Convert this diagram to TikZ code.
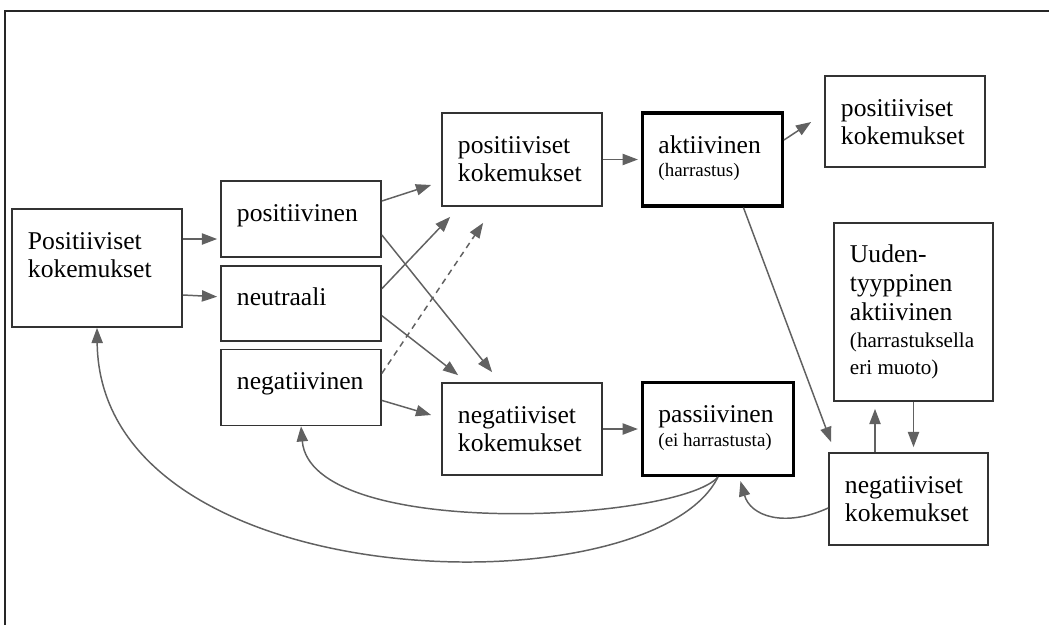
\documentclass[tikz,border=0pt]{standalone}
\usepackage{fontspec}
\setmainfont{Liberation Serif}
\usetikzlibrary{arrows.meta, positioning}
\newcommand{\boxfont}{\fontsize{18.2}{20.6}\selectfont}
\newcommand{\notefont}{\fontsize{13.5}{17}\selectfont}
% text sits at the top of each box, first baseline 1cm below the edge
\newcommand{\boxtxt}[3]{\parbox[c][#2][t]{#1}{\boxfont\raggedright\rule{0pt}{1cm}#3}}
\tikzset{
  box/.style     ={rectangle, draw=black!80, line width=1.2pt,
                   inner xsep=0.4cm, inner ysep=0pt},
  mainbox/.style ={box, draw=black, line width=2.2pt},
  arr/.style     ={-{Triangle[length=0.38cm, width=0.28cm]}, draw=black!62, line width=1.05pt},
  dashlink/.style={arr, dash pattern=on 0.15cm off 0.12cm},
}
\begin{document}
\begin{tikzpicture}[x=0.025cm, y=-0.025cm]

  \useasboundingbox (0,0) rectangle (1049,625);
  \draw[line width=1.4pt, black!85] (5,625) -- (5,11) -- (1049,11);

  \node[box] (pk) at (97,268) {\boxtxt{3.45cm}{2.95cm}{Positiiviset\\kokemukset}};
  \node[box] (pos) at (301,219) {\boxtxt{3.2cm}{1.9cm}{positiivinen}};
  \node[box, below=0.175cm of pos] (neu) {\boxtxt{3.2cm}{1.875cm}{neutraali}};
  \node[box, below=0.175cm of neu] (neg) {\boxtxt{3.2cm}{1.9cm}{negatiivinen}};
  \node[box] (pkok) at (522,159.5) {\boxtxt{3.2cm}{2.325cm}{positiiviset\\kokemukset}};
  \node[mainbox, right=0.95cm of pkok] (akt) {\boxtxt{2.7cm}{2.325cm}{aktiivinen\par{\notefont(harrastus)\par}}};
  \node[box] (pkok2) at (905,121.5) {\boxtxt{3.2cm}{2.275cm}{positiiviset\\kokemukset}};
  \node[box] (nkok) at (522,429) {\boxtxt{3.2cm}{2.3cm}{negatiiviset\\kokemukset}};
  \node[mainbox, right=0.95cm of nkok] (pas) {\boxtxt{2.975cm}{2.325cm}{passiivinen\par{\notefont(ei harrastusta)\par}}};
  \node[box] (uusi) at (913.5,312) {\boxtxt{3.175cm}{4.45cm}{Uuden-\\tyyppinen\\aktiivinen\par{\fontsize{15}{19}\selectfont(harrastuksella\\eri muoto)\par}}};
  \node[box] (nkok2) at (908.5,499) {\boxtxt{3.175cm}{2.3cm}{negatiiviset\\kokemukset}};

  \draw[arr] ([shift={(0,-29)}]pk.east) -- ([shift={(-3,20)}]pos.west);
  \draw[arr] ([shift={(0,27)}]pk.east) -- ([shift={(-3,-6.5)}]neu.west);
  \draw[arr] ([shift={(0,-18)}]pos.east) -- ([shift={(-10,25.5)}]pkok.west);
  \draw[arr] ([shift={(0,16)}]pos.east) -- ([shift={(51,-10)}]nkok.north west);
  \draw[arr] ([shift={(0,-14.5)}]neu.east) -- ([shift={(9,10)}]pkok.south west);
  \draw[arr] ([shift={(0,12.5)}]neu.east) -- ([shift={(17,-7)}]nkok.north west);
  \draw[dashlink] ([shift={(0,-14)}]neg.east) -- ([shift={(42,16)}]pkok.south west);
  \draw[arr] ([shift={(0,13)}]neg.east) -- ([shift={(-10,-14)}]nkok.west);
  \draw[arr] (pkok.east) -- ([shift={(-3,0)}]akt.west);
  \draw[arr] (nkok.east) -- ([shift={(-3,0)}]pas.west);
  \draw[arr] ([shift={(0,-19.5)}]akt.east) -- ([shift={(-13,0.5)}]pkok2.west);
  \draw[arr] ([shift={(31,0)}]akt.south) -- ([shift={(3,-10)}]nkok2.north west);
  \draw[arr] ([shift={(-33.5,0)}]nkok2.north) -- ([shift={(-38.5,7)}]uusi.south);
  \draw[arr] (uusi.south) -- ([shift={(5,-5)}]nkok2.north);

  % feedback curves
  \draw[arr] ([shift={(0,9)}]nkok2.west) .. controls +(-44,20) and +(10,35) .. ([shift={(22.5,4)}]pas.south);
  \draw[arr] (pas.south) .. controls +(-40,45) and +(10,115) .. (neg.south);
  \draw[arr] (pas.south) .. controls +(-66,134) and +(3,273) .. (pk.south);

\end{tikzpicture}
\end{document}
